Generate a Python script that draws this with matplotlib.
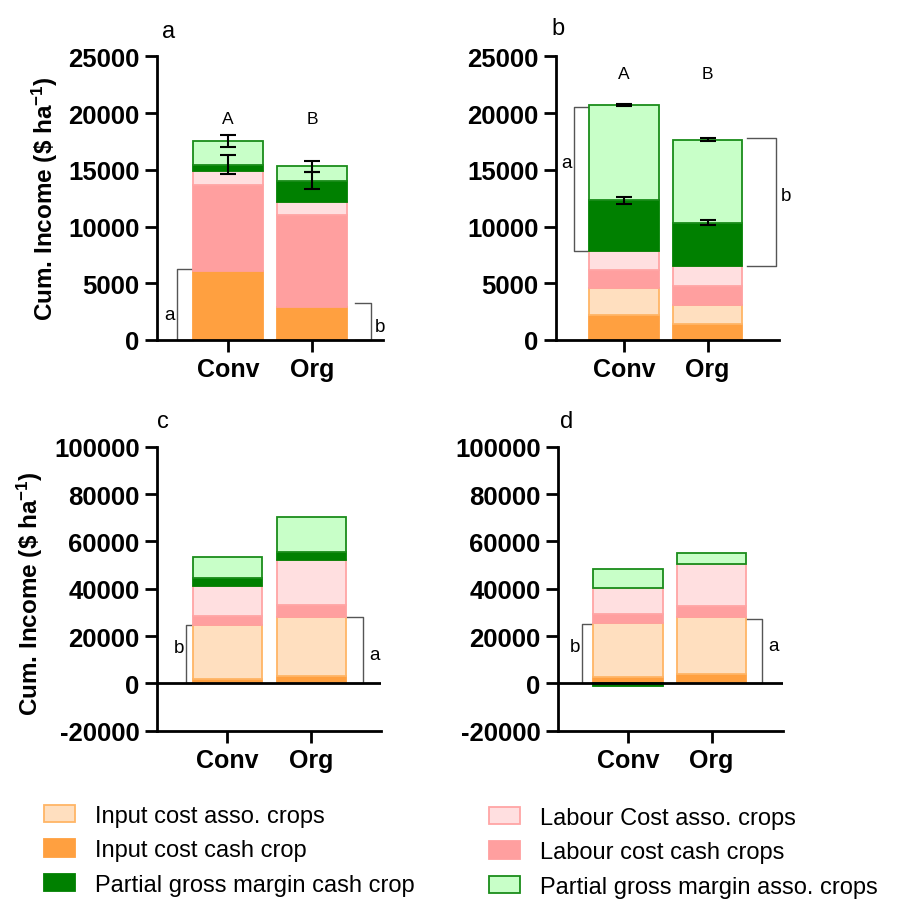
import numpy as np
import matplotlib
matplotlib.use('Agg')
import matplotlib.pyplot as plt
from matplotlib.patches import Patch

plt.rcParams['font.family'] = ['Liberation Sans', 'DejaVu Sans']
plt.rcParams['axes.unicode_minus'] = False
plt.rcParams['mathtext.fontset'] = 'custom'
plt.rcParams['mathtext.rm'] = 'Liberation Sans:bold'
plt.rcParams['mathtext.default'] = 'rm'

groups = ['Conv', 'Org']

# stacking order, bottom to top
series_names = ['Input cost cash crop', 'Input cost asso. crops', 'Labour cost cash crops',
                'Labour Cost asso. crops', 'Partial gross margin cash crop',
                'Partial gross margin asso. crops']

# panel a (segment heights, Conv / Org)
a_input_cash = [6080, 2950]
a_input_asso = [0, 0]
a_labour_cash = [7540, 8045]
a_labour_asso = [1290, 1170]
a_pgm_cash = [530, 1870]
a_pgm_asso = [2100, 1255]
a_err_pgm_cash = [850, 745]
a_err_pgm_asso = [510, 450]

# panel b
b_input_cash = [2165, 1430]
b_input_asso = [2395, 1670]
b_labour_cash = [1610, 1665]
b_labour_asso = [1665, 1755]
b_pgm_cash = [4475, 3800]
b_pgm_asso = [8420, 7340]
b_err_pgm_cash = [300, 230]
b_err_pgm_asso = [80, 120]

# panel c
c_input_cash = [1690, 3110]
c_input_asso = [22890, 25140]
c_labour_cash = [3940, 4940]
c_labour_asso = [12720, 18930]
c_pgm_cash = [3250, 3520]
c_pgm_asso = [9030, 14560]

# panel d
d_input_cash = [2670, 3810]
d_input_asso = [23030, 24030]
d_labour_cash = [3540, 4920]
d_labour_asso = [10870, 17660]
d_pgm_cash = [-1200, 0]
d_pgm_asso = [8190, 4660]

# significance letters above bars (panels a, b)
a_letters = ['A', 'B']
b_letters = ['A', 'B']
a_letter_y = 19560
b_letter_y = 23500

# bracket spans (low, high) for Conv and Org, with letters
a_brackets = [(0, 6300), (0, 3245)]
b_brackets = [(7835, 20500), (6550, 17780)]
c_brackets = [(0, 24700), (0, 27970)]
d_brackets = [(0, 25000), (0, 27400)]
a_bracket_letters = ['a', 'b']
b_bracket_letters = ['a', 'b']
c_bracket_letters = ['b', 'a']
d_bracket_letters = ['b', 'a']

yticks_small = [0, 5000, 10000, 15000, 20000, 25000]
yticks_large = [-20000, 0, 20000, 40000, 60000, 80000, 100000]

face = {
    'Input cost cash crop': '#FFA040',
    'Input cost asso. crops': '#FFDFBF',
    'Labour cost cash crops': '#FF9F9F',
    'Labour Cost asso. crops': '#FFDFE0',
    'Partial gross margin cash crop': '#008000',
    'Partial gross margin asso. crops': '#C8FFC8',
}
edge = {
    'Input cost cash crop': '#FFA040',
    'Input cost asso. crops': '#FFB566',
    'Labour cost cash crops': '#FF9F9F',
    'Labour Cost asso. crops': '#FFA5A5',
    'Partial gross margin cash crop': '#008000',
    'Partial gross margin asso. crops': '#1A8C1A',
}

bar_w = 0.83

panels = [
    dict(name='a', rect=[157, 57.3, 383, 341], xlim=(-0.845, 1.845), ylim=(0, 25000),
         yticks=yticks_small,
         segs=[a_input_cash, a_input_asso, a_labour_cash, a_labour_asso, a_pgm_cash, a_pgm_asso],
         errs={'Partial gross margin cash crop': a_err_pgm_cash,
               'Partial gross margin asso. crops': a_err_pgm_asso},
         letters=a_letters, letter_y=a_letter_y,
         brackets=a_brackets, bletters=a_bracket_letters,
         bx=[(-0.415, -0.61), (1.51, 1.70)], blabel=[(-0.70, 2220), (1.81, 1230)],
         tag=(0.053, 1.089)),
    dict(name='b', rect=[556, 57.3, 779, 341], xlim=(-0.812, 1.852), ylim=(0, 25000),
         yticks=yticks_small,
         segs=[b_input_cash, b_input_asso, b_labour_cash, b_labour_asso, b_pgm_cash, b_pgm_asso],
         errs={'Partial gross margin cash crop': b_err_pgm_cash,
               'Partial gross margin asso. crops': b_err_pgm_asso},
         letters=b_letters, letter_y=b_letter_y,
         brackets=b_brackets, bletters=b_bracket_letters,
         bx=[(-0.41, -0.60), (1.47, 1.82)], blabel=[(-0.69, 15600), (1.93, 12750)],
         tag=(0.01, 1.10)),
    dict(name='c', rect=[157, 447.7, 381, 731.7], xlim=(-0.84, 1.83), ylim=(-20000, 100000),
         yticks=yticks_large,
         segs=[c_input_cash, c_input_asso, c_labour_cash, c_labour_asso, c_pgm_cash, c_pgm_asso],
         errs={}, letters=None, letter_y=None,
         brackets=c_brackets, bletters=c_bracket_letters,
         bx=[(-0.30, -0.49), (1.40, 1.61)], blabel=[(-0.58, 15130), (1.75, 12290)],
         tag=(0.027, 1.09)),
    dict(name='d', rect=[558, 447.7, 782.7, 731.7], xlim=(-0.836, 1.85), ylim=(-20000, 100000),
         yticks=yticks_large,
         segs=[d_input_cash, d_input_asso, d_labour_cash, d_labour_asso, d_pgm_cash, d_pgm_asso],
         errs={}, letters=None, letter_y=None,
         brackets=d_brackets, bletters=d_bracket_letters,
         bx=[(-0.35, -0.546), (1.41, 1.60)], blabel=[(-0.63, 15680), (1.74, 16100)],
         tag=(0.039, 1.089)),
]

W, H = 917, 903
fig = plt.figure(figsize=(W / 100, H / 100), dpi=100)

x = np.arange(len(groups))

for p in panels:
    x0, y0, x1, y1 = p['rect']
    ax = fig.add_axes([x0 / W, 1 - y1 / H, (x1 - x0) / W, (y1 - y0) / H])

    # stacked bars, negatives stack downward from zero
    pos = np.zeros(len(groups))
    neg = np.zeros(len(groups))
    tops = {}
    for name, vals in zip(series_names, p['segs']):
        vals = np.array(vals, dtype=float)
        bottom = np.where(vals >= 0, pos, neg)
        keep = vals != 0
        if keep.any():
            ax.bar(x[keep], vals[keep], bar_w, bottom=bottom[keep], color=face[name],
                   edgecolor=edge[name], linewidth=1.3, zorder=2)
        pos = pos + np.clip(vals, 0, None)
        neg = neg + np.clip(vals, None, 0)
        tops[name] = pos.copy()

    for name, e in p['errs'].items():
        ax.errorbar(x, tops[name], yerr=e, fmt='none', ecolor='black', elinewidth=1.5,
                    capsize=6, capthick=1.5, zorder=4)

    if p['letters']:
        for xi, t in zip(x, p['letters']):
            ax.text(xi, p['letter_y'], t, ha='center', va='center', fontsize=12.5)

    # brackets
    for (lo, hi), (xin, xout), lab, (lx, ly) in zip(p['brackets'], p['bx'], p['bletters'], p['blabel']):
        ax.plot([xin, xout, xout, xin], [hi, hi, lo, lo], color='#555555', lw=1.0,
                zorder=1, clip_on=False)
        ax.text(lx, ly, lab, ha='center', va='center', fontsize=13.5)

    if p['ylim'][0] < 0:
        ax.axhline(0, color='black', lw=2, zorder=3)

    ax.set_xlim(*p['xlim'])
    ax.set_ylim(*p['ylim'])
    ax.set_xticks(x, groups, fontweight='bold', fontsize=18)
    ax.set_yticks(p['yticks'], [str(t) for t in p['yticks']], fontweight='bold', fontsize=18.5)
    ax.tick_params(direction='out', length=8.5, width=2, pad=4)
    for s in ['top', 'right']:
        ax.spines[s].set_visible(False)
    for s in ['left', 'bottom']:
        ax.spines[s].set_linewidth(2)

    ax.text(p['tag'][0], p['tag'][1], p['name'], transform=ax.transAxes,
            ha='center', va='center', fontsize=17)

ylabel = r'Cum. Income (\$ ha$^{\mathrm{-1}}$)'
fig.text(45 / W, 1 - 199 / H, ylabel, rotation=90, ha='center',
         va='center', fontsize=17.5, fontweight='bold')
fig.text(30 / W, 1 - 594 / H, ylabel, rotation=90, ha='center',
         va='center', fontsize=17.5, fontweight='bold')

# legend, two columns placed separately
handles = {n: Patch(facecolor=face[n], edgecolor=edge[n], linewidth=1.3) for n in series_names}
left_col = ['Input cost asso. crops', 'Input cost cash crop', 'Partial gross margin cash crop']
right_col = ['Labour Cost asso. crops', 'Labour cost cash crops', 'Partial gross margin asso. crops']
for names, ax_x, ax_y in [(left_col, 44, 806), (right_col, 489, 808)]:
    fig.legend([handles[n] for n in names], names, loc='upper left',
               bbox_to_anchor=(ax_x / W, 1 - ax_y / H), frameon=False, fontsize=17,
               borderpad=0, borderaxespad=0, handlelength=1.3, handleheight=0.75,
               handletextpad=0.85, labelspacing=0.52)

fig.savefig('out.png', dpi=100)
